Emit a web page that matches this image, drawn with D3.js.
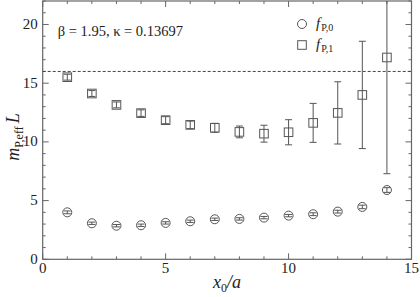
<!DOCTYPE html>
<html>
<head>
<meta charset="utf-8">
<script src="https://cdn.jsdelivr.net/npm/d3@7"></script>
<style>
  body { margin: 0; background: #fff; }
  svg text { font-family: 'Liberation Serif', 'Times New Roman', Times, serif; fill: #222; }
</style>
</head>
<body>
<div id="chart"></div>
<script>
// x0/a positions
const xs = [1, 2, 3, 4, 5, 6, 7, 8, 9, 10, 11, 12, 13, 14];
// f_P,0 (circles)
const fp0 = [4.0, 3.07, 2.86, 2.9, 3.1, 3.24, 3.41, 3.44, 3.55, 3.72, 3.84, 4.06, 4.46, 5.9];
const fp0Err = [0.12, 0.1, 0.1, 0.1, 0.1, 0.1, 0.1, 0.1, 0.1, 0.1, 0.12, 0.12, 0.15, 0.2];
// f_P,1 (squares)
const fp1 = [15.51, 14.12, 13.15, 12.45, 11.85, 11.45, 11.2, 10.85, 10.7, 10.82, 11.62, 12.47, 14.0, 17.19];
const fp1Err = [0.25, 0.25, 0.25, 0.28, 0.3, 0.32, 0.38, 0.5, 0.72, 1.07, 1.66, 2.65, 4.57, 9.9];
const refLine = 16;
const xTicks = [0, 5, 10, 15];
const yTicks = [0, 5, 10, 15, 20];

const width = 420, height = 297;
const margin = { top: 1, right: 8.5, bottom: 37.7, left: 42.7 };
const iw = width - margin.left - margin.right;
const ih = height - margin.top - margin.bottom;

const svg = d3.select('#chart').append('svg')
  .attr('width', width)
  .attr('height', height)
  .attr('font-family', "'Liberation Serif', 'Times New Roman', serif");

const g = svg.append('g')
  .attr('transform', `translate(${margin.left},${margin.top})`);

const x = d3.scaleLinear().domain([0, 15]).range([0, iw]);
const y = d3.scaleLinear().domain([0, 22]).range([ih, 0]);

const axisColor = '#666';
const markColor = '#555';

g.append('defs').append('clipPath').attr('id', 'clip')
  .append('rect').attr('width', iw).attr('height', ih);

// ticks inside on all four sides, minor every 1
function drawTicks(axis, scale, major) {
  const vals = d3.range(scale.domain()[0], scale.domain()[1] + 0.001, 1);
  vals.forEach(v => {
    const len = major.includes(v) ? 6 : 3;
    const p = scale(v);
    if (axis === 'x') {
      g.append('line').attr('x1', p).attr('x2', p).attr('y1', ih).attr('y2', ih - len)
        .attr('stroke', axisColor);
      g.append('line').attr('x1', p).attr('x2', p).attr('y1', 0).attr('y2', len)
        .attr('stroke', axisColor);
    } else {
      g.append('line').attr('y1', p).attr('y2', p).attr('x1', 0).attr('x2', len)
        .attr('stroke', axisColor);
      g.append('line').attr('y1', p).attr('y2', p).attr('x1', iw).attr('x2', iw - len)
        .attr('stroke', axisColor);
    }
  });
}
drawTicks('x', x, xTicks);
drawTicks('y', y, yTicks);

g.append('rect')
  .attr('width', iw).attr('height', ih)
  .attr('fill', 'none').attr('stroke', axisColor).attr('stroke-width', 1.2);

// tick labels
g.selectAll('.xl').data(xTicks).enter().append('text')
  .attr('x', d => x(d)).attr('y', ih + 14)
  .attr('text-anchor', 'middle').attr('font-size', 15)
  .text(d => d);
g.selectAll('.yl').data(yTicks).enter().append('text')
  .attr('x', -5).attr('y', d => y(d) + 4.5)
  .attr('text-anchor', 'end').attr('font-size', 15)
  .text(d => d);

// dashed reference line
g.append('line')
  .attr('x1', 0).attr('x2', iw)
  .attr('y1', y(refLine)).attr('y2', y(refLine))
  .attr('stroke', '#444').attr('stroke-dasharray', '3,2');

const plot = g.append('g').attr('clip-path', 'url(#clip)');

function errorBars(vals, errs) {
  const cap = 3.5;
  xs.forEach((xv, i) => {
    const cx = x(xv), lo = y(vals[i] - errs[i]), hi = y(vals[i] + errs[i]);
    plot.append('line').attr('x1', cx).attr('x2', cx).attr('y1', lo).attr('y2', hi)
      .attr('stroke', markColor);
    [lo, hi].forEach(yy => plot.append('line')
      .attr('x1', cx - cap).attr('x2', cx + cap).attr('y1', yy).attr('y2', yy)
      .attr('stroke', markColor));
  });
}
errorBars(fp0, fp0Err);
errorBars(fp1, fp1Err);

plot.selectAll('.c').data(xs).enter().append('circle')
  .attr('cx', d => x(d)).attr('cy', (d, i) => y(fp0[i]))
  .attr('r', 4.5).attr('fill', 'none').attr('stroke', markColor).attr('stroke-width', 1);

plot.selectAll('.s').data(xs).enter().append('rect')
  .attr('x', d => x(d) - 4.3).attr('y', (d, i) => y(fp1[i]) - 4.3)
  .attr('width', 8.6).attr('height', 8.6)
  .attr('fill', 'none').attr('stroke', markColor).attr('stroke-width', 1);

// annotation
g.append('text').attr('x', 15).attr('y', 35).attr('font-size', 14.5)
  .text('β = 1.95,  κ = 0.13697');

// legend
const lg = g.append('g').attr('transform', `translate(${302 - margin.left},0)`);
lg.append('circle').attr('cx', 0).attr('cy', 23).attr('r', 4.5)
  .attr('fill', 'none').attr('stroke', markColor);
lg.append('rect').attr('x', -4.3).attr('y', 44 - 4.3).attr('width', 8.6).attr('height', 8.6)
  .attr('fill', 'none').attr('stroke', markColor);
[['0', 27], ['1', 48]].forEach(([s, yy]) => {
  const t = lg.append('text').attr('x', 14).attr('y', yy).attr('font-size', 15);
  t.append('tspan').attr('font-style', 'italic').text('f');
  t.append('tspan').attr('font-size', 10).attr('dy', 3).attr('dx', 1).text('P,' + s);
});

// axis titles
const xt = svg.append('text').attr('x', 227).attr('y', 288)
  .attr('text-anchor', 'middle').attr('font-size', 18);
xt.append('tspan').attr('font-style', 'italic').text('x');
xt.append('tspan').attr('font-size', 12).attr('dy', 4).text('0');
xt.append('tspan').attr('dy', -4).attr('font-style', 'italic').text('/a');

const yt = svg.append('text')
  .attr('transform', 'translate(19,137) rotate(-90)')
  .attr('text-anchor', 'middle').attr('font-size', 18);
yt.append('tspan').attr('font-style', 'italic').text('m');
yt.append('tspan').attr('font-size', 12).attr('dy', 4).text('P,eff');
yt.append('tspan').attr('dy', -4).attr('dx', 3).attr('font-style', 'italic').text('L');
</script>
</body>
</html>
